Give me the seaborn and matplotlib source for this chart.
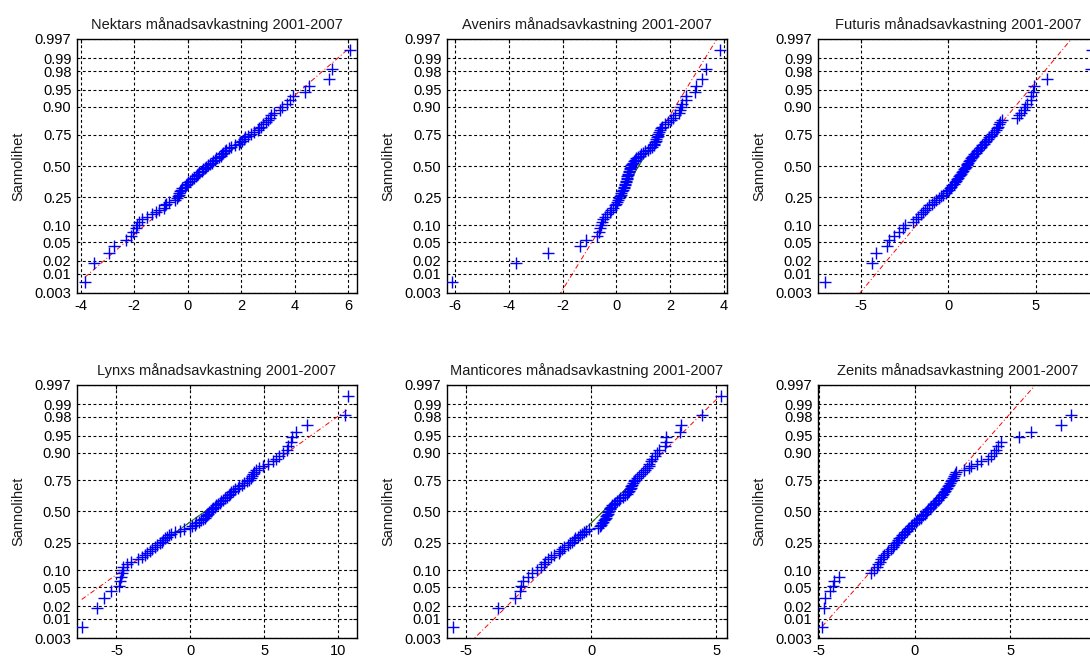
import numpy as np
import matplotlib
matplotlib.use("Agg")
import matplotlib.pyplot as plt
from matplotlib.ticker import MultipleLocator
import seaborn as sns
from statistics import NormalDist

# ---------------- data (sorted monthly returns, %, 84 months each) ----------------
titles = [
    "Nektars månadsavkastning 2001-2007",
    "Avenirs månadsavkastning 2001-2007",
    "Futuris månadsavkastning 2001-2007",
    "Lynxs månadsavkastning 2001-2007",
    "Manticores månadsavkastning 2001-2007",
    "Zenits månadsavkastning 2001-2007",
]

nektar = [-3.85, -3.49, -2.93, -2.75, -2.32, -2.13, -2.03, -1.95, -1.88, -1.82,
          -1.70, -1.51, -1.33, -1.18, -1.08, -0.90, -0.86, -0.81, -0.69, -0.47,
          -0.41, -0.37, -0.34, -0.32, -0.28, -0.25, -0.20, -0.12, -0.07, -0.02,
          0.02, 0.10, 0.17, 0.25, 0.30, 0.34, 0.39, 0.44, 0.52, 0.59,
          0.64, 0.70, 0.76, 0.83, 0.89, 0.95, 1.01, 1.07, 1.16, 1.23,
          1.28, 1.33, 1.38, 1.44, 1.53, 1.63, 1.75, 1.90, 1.97, 2.04,
          2.09, 2.14, 2.24, 2.36, 2.49, 2.61, 2.67, 2.73, 2.81, 2.92,
          3.00, 3.08, 3.13, 3.23, 3.45, 3.53, 3.72, 3.84, 3.94, 4.40,
          4.52, 5.30, 5.38, 6.06]

avenir = [-6.09, -3.71, -2.54, -1.34, -1.14, -0.72, -0.64, -0.59, -0.57, -0.52,
          -0.50, -0.42, -0.33, -0.25, -0.20, -0.12, -0.06, -0.02, 0.02, 0.06,
          0.10, 0.14, 0.16, 0.19, 0.21, 0.25, 0.27, 0.30, 0.32, 0.33,
          0.35, 0.37, 0.38, 0.40, 0.41, 0.43, 0.45, 0.46, 0.47, 0.50,
          0.52, 0.53, 0.56, 0.58, 0.61, 0.64, 0.69, 0.74, 0.80, 0.87,
          0.93, 0.99, 1.06, 1.18, 1.26, 1.34, 1.39, 1.41, 1.44, 1.46,
          1.49, 1.51, 1.53, 1.56, 1.58, 1.61, 1.65, 1.71, 1.81, 1.92,
          2.04, 2.10, 2.17, 2.33, 2.38, 2.41, 2.45, 2.57, 2.60, 2.91,
          2.97, 3.17, 3.32, 3.86]

futuris = [-7.02, -4.34, -4.09, -3.49, -3.40, -3.06, -2.83, -2.55, -2.45, -1.98,
           -1.85, -1.70, -1.55, -1.42, -1.32, -1.23, -1.09, -0.94, -0.79, -0.66,
           -0.53, -0.42, -0.28, -0.13, -0.04, 0.06, 0.13, 0.19, 0.25, 0.32,
           0.42, 0.47, 0.53, 0.57, 0.64, 0.70, 0.75, 0.79, 0.85, 0.91,
           0.96, 1.02, 1.06, 1.09, 1.15, 1.21, 1.26, 1.32, 1.38, 1.43,
           1.51, 1.58, 1.66, 1.74, 1.81, 1.89, 1.96, 2.04, 2.11, 2.19,
           2.26, 2.34, 2.45, 2.53, 2.64, 2.74, 2.79, 2.87, 2.94, 2.98,
           3.06, 3.96, 4.06, 4.19, 4.34, 4.38, 4.53, 4.72, 4.75, 4.87,
           4.91, 5.66, 8.15, 8.20]

lynx = [-7.35, -6.34, -5.84, -5.37, -4.81, -4.76, -4.70, -4.65, -4.58, -4.54,
        -4.31, -3.98, -3.53, -3.30, -3.08, -2.92, -2.74, -2.56, -2.40, -2.22,
        -2.02, -1.90, -1.82, -1.72, -1.58, -1.44, -1.28, -1.06, -0.67, -0.45,
        -0.04, 0.13, 0.29, 0.40, 0.58, 0.74, 0.85, 0.97, 1.08, 1.15,
        1.21, 1.30, 1.39, 1.48, 1.57, 1.66, 1.75, 1.87, 1.98, 2.09,
        2.20, 2.34, 2.47, 2.61, 2.70, 2.79, 2.92, 3.06, 3.21, 3.33,
        3.51, 3.66, 3.86, 3.99, 4.08, 4.15, 4.24, 4.34, 4.45, 4.63,
        4.90, 5.24, 5.57, 5.80, 6.02, 6.29, 6.52, 6.65, 6.81, 6.92,
        7.19, 7.93, 10.47, 10.70]

manticore = [-5.55, -3.72, -3.07, -2.87, -2.82, -2.74, -2.55, -2.37, -2.18, -2.02,
             -1.91, -1.84, -1.75, -1.62, -1.51, -1.31, -1.24, -1.18, -1.09, -0.94,
             -0.84, -0.76, -0.69, -0.64, -0.55, -0.47, -0.37, -0.28, -0.20, -0.11,
             0.25, 0.33, 0.39, 0.43, 0.47, 0.52, 0.55, 0.57, 0.60, 0.63,
             0.66, 0.68, 0.71, 0.74, 0.76, 0.80, 0.84, 0.90, 0.96, 1.03,
             1.10, 1.16, 1.27, 1.36, 1.43, 1.48, 1.52, 1.54, 1.57, 1.60,
             1.62, 1.65, 1.69, 1.74, 1.82, 1.92, 2.00, 2.08, 2.15, 2.23,
             2.30, 2.32, 2.39, 2.43, 2.53, 2.61, 2.70, 2.93, 2.97, 3.00,
             3.54, 3.57, 4.44, 5.20]

zenit = [-4.82, -4.75, -4.65, -4.40, -4.26, -4.18, -3.95, -2.25, -2.12, -1.98,
         -1.89, -1.81, -1.77, -1.67, -1.58, -1.46, -1.37, -1.25, -1.14, -1.05,
         -0.98, -0.93, -0.86, -0.79, -0.72, -0.66, -0.57, -0.49, -0.41, -0.33,
         -0.27, -0.18, -0.12, -0.03, 0.08, 0.15, 0.23, 0.31, 0.36, 0.44,
         0.52, 0.57, 0.66, 0.71, 0.80, 0.85, 0.94, 0.99, 1.08, 1.13,
         1.22, 1.27, 1.36, 1.41, 1.47, 1.53, 1.58, 1.65, 1.70, 1.75,
         1.81, 1.84, 1.88, 1.93, 1.98, 2.05, 2.09, 2.16, 2.58, 2.84,
         2.96, 3.28, 3.46, 3.81, 3.98, 4.16, 4.25, 4.37, 4.51, 5.47,
         6.09, 7.63, 8.16, 9.50]

series = [nektar, avenir, futuris, lynx, manticore, zenit]

prob_ticks = [0.003, 0.01, 0.02, 0.05, 0.10, 0.25, 0.50, 0.75, 0.90, 0.95, 0.98, 0.99, 0.997]
prob_labels = ["0.003", "0.01", "0.02", "0.05", "0.10", "0.25", "0.50",
               "0.75", "0.90", "0.95", "0.98", "0.99", "0.997"]
ylabel_text = "Sannolihet"

# ---------------- layout ----------------
xlims = [(-4.14, 6.33), (-6.29, 4.11), (-7.43, 8.57),
         (-7.67, 11.29), (-5.77, 5.42), (-5.04, 9.57)]
xsteps = [2, 2, 5, 5, 5, 5]

sns.set_style("white")
plt.rcParams["font.family"] = ["Liberation Sans", "DejaVu Sans"]
plt.rcParams["axes.unicode_minus"] = False

W, H = 1090, 657
fig = plt.figure(figsize=(W / 100, H / 100), dpi=100)
fig.patch.set_facecolor("white")

lefts = [77, 447, 818]
tops = [39, 385]
heights = [254, 253]
aw = 280

probit = np.vectorize(NormalDist().inv_cdf, otypes=[float])

for k, (title, vals) in enumerate(zip(titles, series)):
    r, c = divmod(k, 3)
    ax = fig.add_axes([lefts[c] / W, 1 - (tops[r] + heights[r]) / H,
                       aw / W, heights[r] / H])
    x = np.sort(np.asarray(vals, dtype=float))
    n = len(x)
    z = probit((np.arange(1, n + 1) - 0.5) / n)

    # reference line through the quartiles (normplot style)
    q1, q3 = np.percentile(x, [25, 75], method="hazen")
    z1, z3 = probit([0.25, 0.75])
    slope = (z3 - z1) / (q3 - q1)
    xl = np.array([x.min(), x.max()])
    ax.plot(xl, z1 + (xl - q1) * slope, color="red",
            linestyle=(0, (5, 2.5, 1, 2.5)), linewidth=0.7, zorder=2)
    xm = np.array([q1, q3])
    ax.plot(xm, z1 + (xm - q1) * slope, color="green", linewidth=0.7, zorder=2.5)

    sns.scatterplot(x=x, y=z, ax=ax, marker="+", color="#0000ff", s=80,
                    linewidth=1.0, zorder=3, legend=False)

    ax.set_xlim(*xlims[k])
    ax.set_ylim(probit(prob_ticks[0]), probit(prob_ticks[-1]))
    ax.xaxis.set_major_locator(MultipleLocator(xsteps[k]))
    ax.set_yticks(probit(prob_ticks))
    ax.set_yticklabels(prob_labels)

    ax.grid(True, color="black", linestyle=(0, (2.6, 2.2)), linewidth=0.8)
    ax.set_axisbelow(True)
    for s in ax.spines.values():
        s.set_color("black")
        s.set_linewidth(1.0)
    ax.tick_params(direction="in", length=3, width=0.8, top=True, right=True,
                   labelsize=10.5, pad=4, colors="black")
    ax.set_xlabel("")
    ax.set_ylabel(ylabel_text, fontsize=10.5, labelpad=7, color="#1a1a1a")
    ax.set_title(title, fontsize=10.5, pad=7, color="#1a1a1a")

fig.savefig("out.png", dpi=100, facecolor="white")
